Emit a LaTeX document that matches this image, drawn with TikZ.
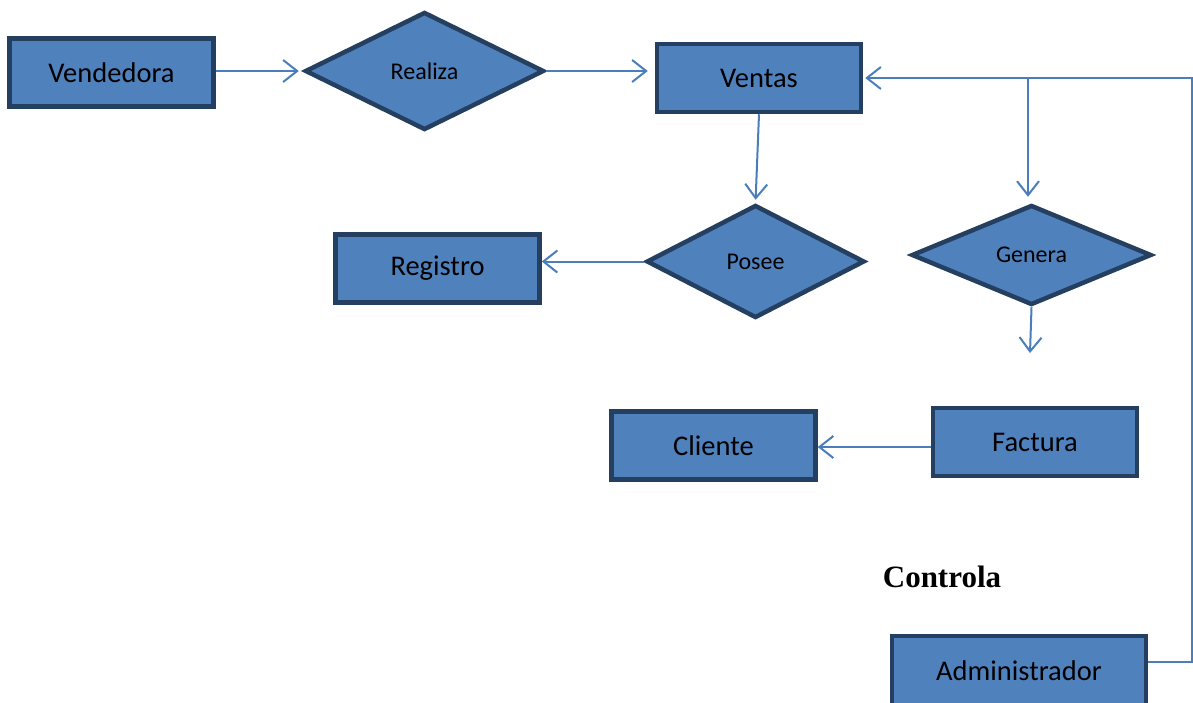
\documentclass[tikz,border=0pt]{standalone}
\usepackage{fontspec}
\setmainfont{Carlito}
\newfontfamily\titlefont{Liberation Serif}
\usetikzlibrary{shapes.geometric,arrows.meta}
\definecolor{boxfill}{HTML}{4F81BD}
\definecolor{boxedge}{HTML}{243F60}
\definecolor{linkcol}{HTML}{4A7EBB}
\tikzset{
  entity/.style={rectangle, draw=boxedge, fill=boxfill, line width=4.5pt,
    minimum width=204pt, minimum height=68pt, inner sep=0pt,
    font=\fontsize{28.5}{33}\selectfont},
  relation/.style={diamond, draw=boxedge, fill=boxfill, line width=4.5pt,
    inner sep=0pt, font=\fontsize{24}{28}\selectfont},
  link/.style={draw=linkcol, line width=2pt},
  arr/.style={link, -{Straight Barb[length=14pt,width=22pt,line width=2pt]}}
}
\begin{document}
\begin{tikzpicture}[x=1pt,y=-1pt]
\useasboundingbox (0,0) rectangle (1193,702);

% entities
\node[entity] (vend) at (111.5,72.5) {Vendedora};
\node[entity] (ventas) at (759,78) {Ventas};
\node[entity] (registro) at (437.5,268.5) {Registro};
\node[entity] (factura) at (1035,442) {Factura};
\node[entity] (cliente) at (713.5,445.5) {Cliente};
\node[entity, minimum width=254pt, minimum height=76pt] (admin) at (1019,674) {\raisebox{6pt}{Administrador}};

% relationships
\node[relation, minimum width=239pt, minimum height=118pt] (realiza) at (424.5,71) {Realiza};
\node[relation, minimum width=218pt, minimum height=113pt] (posee) at (755.5,261.5) {Posee};
\node[relation, minimum width=240pt, minimum height=100pt] (genera) at (1031.5,255) {Genera};

\node[font=\titlefont\bfseries\fontsize{31}{36}\selectfont] (controla) at (942,577) {Controla};

% connectors
\draw[arr, shorten >=4pt] (vend.east |- realiza.west) -- (realiza.west);
\draw[arr, shorten >=7pt] (realiza.east) -- (ventas.west |- realiza.east);
\draw[arr, shorten >=3pt] (ventas.south) -- (posee.north);
\draw[arr] (posee.west) -- (registro.east |- posee.west);

\coordinate (corner) at (1192,662);
\coordinate (branch) at (1028,78);
\draw[link] (admin.east |- corner) -- (corner) |- (branch);
\draw[arr] (branch) -- ([xshift=2pt]ventas.east);
\draw[arr, shorten >=6pt] (branch) -- (branch |- genera.north);

\coordinate (gend) at (1030,353);
\draw[arr] (genera.south) -- (gend);
\coordinate (fleft) at ([yshift=-5pt]factura.west);
\draw[arr] (fleft) -- (cliente.east |- fleft);
\end{tikzpicture}
\end{document}
